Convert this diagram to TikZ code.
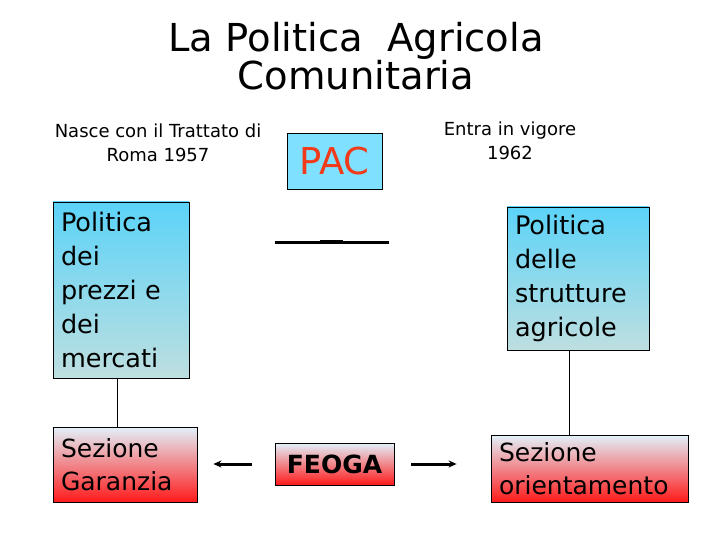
\documentclass[tikz,border=0pt]{standalone}
\usepackage{fontspec}
\setmainfont{DejaVu Sans}
\usetikzlibrary{arrows.meta}

\definecolor{pacblue}{HTML}{80E0FF}
\definecolor{pacred}{HTML}{F03A1A}
\definecolor{skytop}{HTML}{5CD3F8}
\definecolor{skybot}{HTML}{BEDFE0}
\definecolor{pinktop}{HTML}{E2F1FA}
\definecolor{redbot}{HTML}{FF1A1A}

\begin{document}
\begin{tikzpicture}[x=1pt,y=-1pt,line width=0.8pt]
        \tikzstyle{box}=[draw=black,rectangle,inner sep=0pt]
        \tikzstyle{blue box}=[box,top color=skytop,bottom color=skybot,
            text width=#1,align=left,font=\fontsize{25.5}{34}\selectfont]
        \tikzstyle{red box}=[box,top color=pinktop,bottom color=redbot,
            align=left,font=\fontsize{25}{33}\selectfont]
        \tikzstyle{note}=[align=center,font=\fontsize{18}{24}\selectfont]
        \tikzstyle{link}=[-{Stealth[length=8pt,width=7pt]},line width=3pt]

        \useasboundingbox (0,0) rectangle (720,540);

        % Title and the two notes
        \node[align=center,font=\fontsize{38.5}{38}\selectfont] (title) at (356,56)
            {La Politica\ \ Agricola\\Comunitaria};
        \node[note] (nasce) at (158,143) {Nasce con il Trattato di\\Roma 1957};
        \node[note] (vigore) at (510,141) {Entra in vigore\\1962};

        % PAC in the middle
        \node[box,fill=pacblue,minimum width=95,minimum height=56,text=pacred,
            font=\fontsize{37}{38}\selectfont] (pac) at (334.5,161) {PAC};

        % The two policies
        \node[blue box=120pt,minimum width=136,minimum height=176] (prezzi) at (121,290)
            {Politica\\dei\\prezzi e\\dei\\mercati};
        \node[blue box=126pt,minimum width=142,minimum height=143] (strutture) at (578,278.5)
            {Politica\\delle\\strutture\\agricole};

        % The fund and its two sections
        \node[red box,minimum width=144,minimum height=75,text width=128pt] (garanzia) at (125,464.5)
            {Sezione\\Garanzia};
        \node[red box,minimum width=119,minimum height=42,align=center,
            font=\bfseries\fontsize{25}{30}\selectfont] (feoga) at (334.5,464) {FEOGA};
        \node[red box,minimum width=197,minimum height=67,text width=181pt] (orient) at (589.5,468.5)
            {Sezione\\orientamento};

        % The rule under PAC
        \coordinate (rule-l) at (275,242);
        \coordinate (rule-r) at (389,242);
        \coordinate (rule-a) at (320,240.5);
        \coordinate (rule-b) at (343,240.5);
        \draw[line width=3pt] (rule-l) -- (rule-r);
        \draw[line width=2pt] (rule-a) -- (rule-b);

        % Connect the policies with their sections
        \draw ([xshift=-4pt]prezzi.south) -- ([xshift=-4pt]prezzi.south |- garanzia.north);
        \draw ([xshift=-9pt]strutture.south) -- ([xshift=-9pt]strutture.south |- orient.north);

        % FEOGA feeds both sections
        \draw[link,shorten <=23pt,shorten >=16pt] (feoga) -- (feoga -| garanzia.east);
        \draw[link,shorten <=17pt,shorten >=34pt] (feoga) -- (feoga -| orient.west);
\end{tikzpicture}
\end{document}
